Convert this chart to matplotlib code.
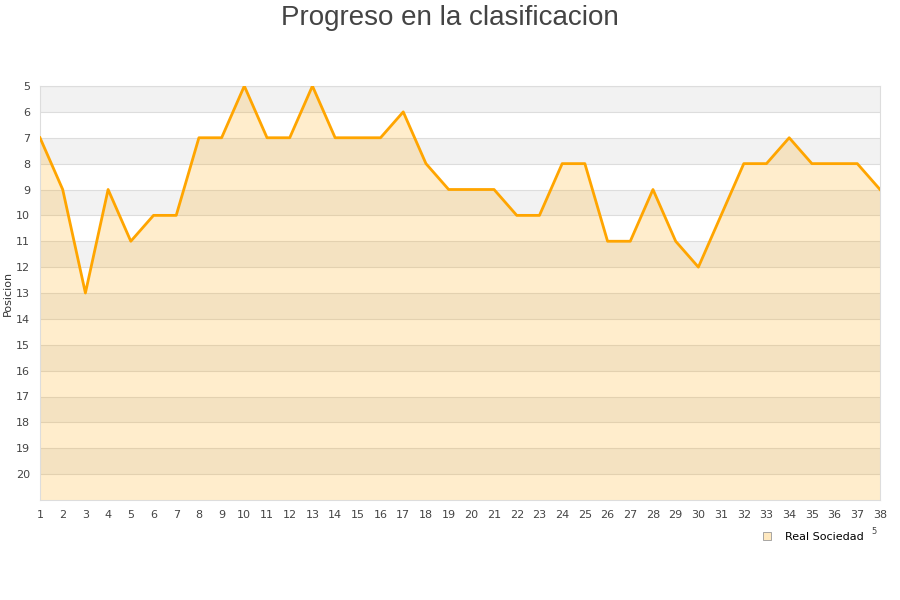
import matplotlib.pyplot as plt
from matplotlib.lines import Line2D

# Real Sociedad position per matchday
jornadas = list(range(1, 39))
posicion = [7, 9, 13, 9, 11, 10, 10, 7, 7, 5, 7, 7, 5, 7, 7, 7, 6, 8, 9, 9,
            9, 10, 10, 8, 8, 11, 11, 9, 11, 12, 10, 8, 8, 7, 8, 8, 8, 9]
y_ticks = list(range(5, 21))
equipo = 'Real Sociedad'

fig = plt.figure(figsize=(9, 6), dpi=100)
ax = fig.add_axes([40 / 900, 1 - 500 / 600, 840 / 900, 414 / 600])

# alternating bands
for y in range(5, 21, 2):
    ax.axhspan(y, y + 1, color='#f2f2f2', zorder=0, lw=0)

ax.fill_between(jornadas, posicion, 21, color='#ffa500', alpha=0.2, lw=0, zorder=2)
ax.plot(jornadas, posicion, color='#ffa500', lw=2, zorder=3)

ax.set_xlim(1, 38)
ax.set_ylim(21, 5)
ax.set_xticks(jornadas)
ax.set_yticks(y_ticks)
ax.tick_params(length=0, labelsize=8, colors='#444444', pad=7)
ax.grid(axis='y', color='#dddddd', lw=0.8, zorder=1)
ax.set_axisbelow(True)
for s in ax.spines.values():
    s.set_color('#dddddd')

ax.set_ylabel('Posicion', fontsize=8, color='#333333', labelpad=2)
fig.text(0.5, 0.992, 'Progreso en la clasificacion', ha='center', va='top',
         fontsize=20, color='#444444', family='Liberation Sans')

handle = Line2D([], [], marker='s', ls='none', markersize=6,
                markerfacecolor='#ffe9c0', markeredgecolor='#999999', markeredgewidth=0.6)
fig.legend([handle], [equipo], loc='center', bbox_to_anchor=(810 / 900, 1 - 537 / 600),
           frameon=False, fontsize=8, handletextpad=0.6)
fig.text(874 / 900, 1 - 532 / 600, '5', fontsize=6, color='#444444', ha='center', va='center')

fig.savefig('out.png', dpi=100, facecolor='white')
